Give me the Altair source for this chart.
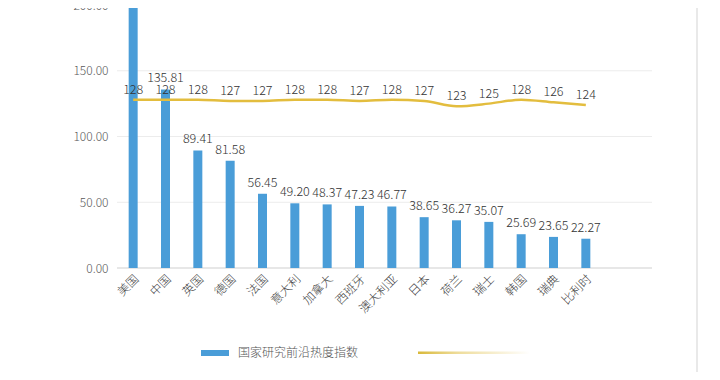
import altair as alt
import pandas as pd

countries = ["美国", "中国", "英国", "德国", "法国", "意大利", "加拿大", "西班牙",
             "澳大利亚", "日本", "荷兰", "瑞士", "韩国", "瑞典", "比利时"]
heat_index = [245.0, 135.81, 89.41, 81.58, 56.45, 49.20, 48.37, 47.23,
              46.77, 38.65, 36.27, 35.07, 25.69, 23.65, 22.27]
line_values = [128, 128, 128, 127, 127, 128, 128, 127, 128, 127, 123, 125, 128, 126, 124]
y_ticks = [0, 50, 100, 150, 200]
legend_label = "国家研究前沿热度指数"

FONT = "Noto Sans CJK SC"
BLUE = "#4a9dd8"
GOLD = "#e3bd3e"

df = pd.DataFrame({"country": countries, "heat": heat_index, "line": line_values})
grid_df = pd.DataFrame({"v": y_ticks})

W, H = 485, 260
xenc = alt.X("country:N", sort=countries,
             scale=alt.Scale(paddingInner=0.5, paddingOuter=0.25),
             axis=alt.Axis(title=None, labelAngle=-45, labelFont=FONT, labelFontSize=12,
                           labelFontWeight=300,
                           labelColor="#404040", ticks=False, domain=False,
                           labelPadding=5))
yscale = alt.Scale(domain=[0, 200], range=[H, -3])

base = alt.Chart(df)

grid = alt.Chart(grid_df).mark_rule(color="#ececec", strokeWidth=1).encode(
    y=alt.Y("v:Q", scale=yscale,
            axis=alt.Axis(title=None, values=y_ticks, format=".2f", labelFont=FONT,
                          labelFontSize=12, labelFontWeight=300,
                          labelColor="#595959", ticks=False,
                          domain=False, grid=False, labelPadding=9)),
    x=alt.value(0), x2=alt.value(535),
)
baseline = alt.Chart(grid_df).transform_filter("datum.v == 0").mark_rule(
    color="#d9d9d9", strokeWidth=1).encode(
    y=alt.Y("v:Q", scale=yscale), x=alt.value(0), x2=alt.value(535))

bars = base.mark_bar(size=9, color=BLUE, clip=True).encode(
    x=xenc, y=alt.Y("heat:Q", scale=yscale))

bar_text = base.transform_filter("datum.heat <= 200").mark_text(
    font=FONT, fontSize=12.5, fontWeight=300, color="#333333",
    baseline="middle", dy=-11).encode(
    x=alt.X("country:N", sort=countries), y=alt.Y("heat:Q", scale=yscale),
    text=alt.Text("heat:Q", format=".2f"))

line = base.mark_line(color=GOLD, strokeWidth=2.5, interpolate="monotone").encode(
    x=alt.X("country:N", sort=countries), y=alt.Y("line:Q", scale=yscale))

line_text = base.mark_text(font=FONT, fontSize=12.5, fontWeight=300, color="#333333",
                           baseline="middle", dy=-10).encode(
    x=alt.X("country:N", sort=countries), y=alt.Y("line:Q", scale=yscale),
    text=alt.Text("line:Q"))

leg_df = pd.DataFrame({"label": [legend_label]})
leg_rect = alt.Chart(leg_df).mark_rect(color=BLUE).encode(
    x=alt.value(84), x2=alt.value(112), y=alt.value(342), y2=alt.value(348))
leg_text = alt.Chart(leg_df).mark_text(font=FONT, fontSize=12, fontWeight=300,
                                       color="#555555",
                                       align="left", baseline="middle").encode(
    x=alt.value(121), y=alt.value(345), text="label:N")
leg_line = alt.Chart(leg_df).mark_rect(
    color={"gradient": "linear", "x1": 0, "x2": 1, "y1": 0, "y2": 0,
           "stops": [{"offset": 0, "color": "#d9b93a"},
                     {"offset": 0.35, "color": "#eedc9a"},
                     {"offset": 1, "color": "#ffffff"}]}).encode(
    x=alt.value(301), x2=alt.value(413), y=alt.value(343.5), y2=alt.value(346))
vline = alt.Chart(leg_df).mark_rule(color="#e2e2e2", strokeWidth=1.5).encode(
    x=alt.value(580), y=alt.value(-8), y2=alt.value(364))

chart = alt.layer(grid, baseline, bars, line, bar_text, line_text,
                  leg_rect, leg_text, leg_line, vline).properties(
    width=W, height=H,
    background="white",
    autosize=alt.AutoSizeParams(type="none"),
    padding={"left": 109, "top": 0, "right": 110, "bottom": 104},
).configure_view(strokeWidth=0, stroke="transparent")

chart.save("out.html", embed_options={"renderer": "svg", "actions": False})
